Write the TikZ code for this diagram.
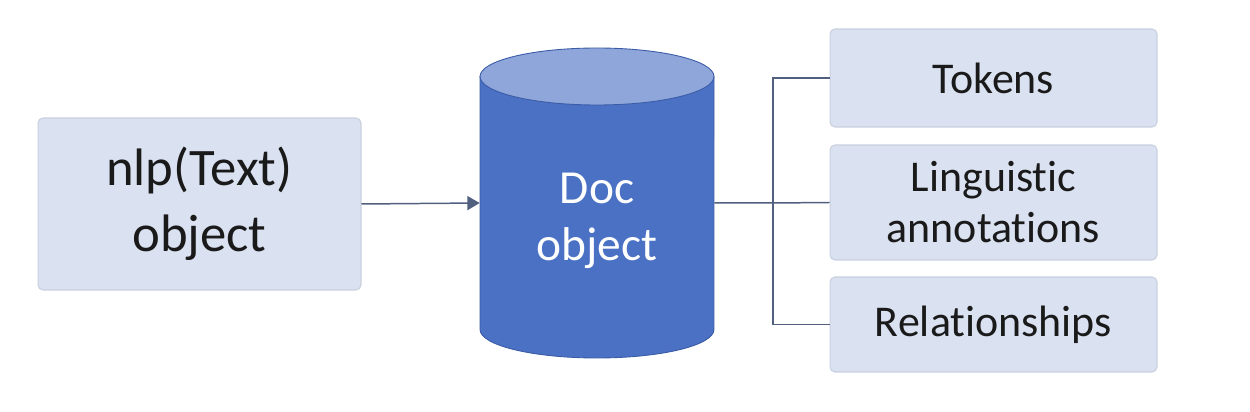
\documentclass[tikz,border=0pt]{standalone}
\usepackage{fontspec}
\setmainfont[Ligatures=NoCommon]{Carlito}
\usetikzlibrary{arrows.meta}
\definecolor{boxfill}{HTML}{DAE1F1}
\definecolor{boxline}{HTML}{C8CFDF}
\definecolor{conncol}{HTML}{51607F}
\definecolor{cylbody}{HTML}{4A71C4}
\definecolor{cyltop}{HTML}{8FA6DA}
\definecolor{cylline}{HTML}{3A5BA5}
\definecolor{txt}{HTML}{1A1A1A}
\tikzset{
  infobox/.style={draw=boxline, fill=boxfill, line width=0.6pt, rounded corners=2.8pt,
    inner sep=0pt, align=center, text=txt},
  conn/.style={draw=conncol, line width=0.85pt},
  doctext/.style={align=center, text=white, inner sep=0pt}
}
\begin{document}
\begin{tikzpicture}[x=0.02cm, y=0.02cm]
\useasboundingbox (0,0) rectangle (1250,412);
% left box
\node[infobox, minimum width=6.46cm, minimum height=3.44cm,
  font={\fontsize{30}{37.4}\selectfont}] (nlp) at (199.5,208) {nlp(Text)\\object};
% cylinder
\node[minimum width=4.68cm, minimum height=6.2cm, inner sep=0pt] (doc) at (597,209) {};
\filldraw[fill=cylbody, draw=cylline, line width=0.5pt]
  (480,335.5) -- (480,82.5)
  arc[start angle=180, end angle=360, x radius=2.34cm, y radius=0.57cm]
  -- (714,335.5) -- cycle;
\filldraw[fill=cyltop, draw=cylline, line width=0.5pt]
  (597,335.5) ellipse[x radius=2.34cm, y radius=0.57cm];
\node[doctext, font={\fontsize{27}{32.3}\selectfont}] (doclabel) at (597,191) {Doc\\object};
% right boxes
\node[infobox, minimum width=6.54cm, minimum height=1.96cm,
  font={\fontsize{25}{29}\selectfont}] (tokens) at (993.5,334) {Tokens};
\node[infobox, minimum width=6.54cm, minimum height=2.3cm,
  font={\fontsize{25}{29}\selectfont}] (ling) at (993.5,209.5) {Linguistic\\annotations};
\node[infobox, minimum width=6.54cm, minimum height=1.9cm,
  font={\fontsize{25}{29}\selectfont}] (rel) at (993.5,87.5) {Relationships};
% connectors
\draw[conn, -{Triangle[length=7pt, width=8pt]}] (nlp.east) -- (doc.west);
\coordinate (jn) at (773,209);
\draw[conn] (doc.east) -- (jn) -- (ling.west);
\draw[conn] (tokens.west) -| (jn) |- (rel.west);
\end{tikzpicture}
\end{document}
